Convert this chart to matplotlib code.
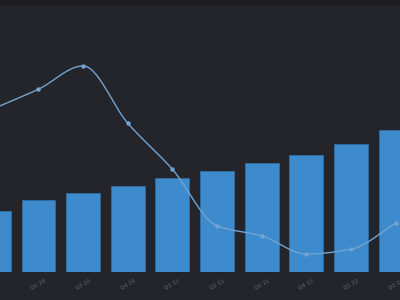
import numpy as np
import matplotlib
matplotlib.use("Agg")
import matplotlib.pyplot as plt
from matplotlib.patches import Rectangle

categories = ["Q1 20", "Q2 20", "Q3 20", "Q4 20", "Q1 21", "Q2 21",
              "Q3 21", "Q4 21", "Q1 22", "Q2 22"]
bar_values = [45.7, 53.5, 58.7, 64.4, 70.4, 75.4, 81.1, 87.1, 95.5, 106.2]
line_values = [61.0, 68.2, 76.9, 55.5, 38.3, 17.2, 13.5, 6.7, 8.5, 18.2]

BG = "#24252a"
BAR = "#3d8bcd"
LINE = "#70a4d4"


def monotone_curve(x, y, n=30):
    x = np.asarray(x, float)
    y = np.asarray(y, float)
    h = np.diff(x)
    d = np.diff(y) / h
    m = np.zeros_like(y)
    m[0] = d[0]
    m[-1] = d[-1]
    for i in range(1, len(y) - 1):
        if d[i - 1] * d[i] <= 0:
            m[i] = 0.0
        else:
            w1 = 2 * h[i] + h[i - 1]
            w2 = h[i] + 2 * h[i - 1]
            m[i] = (w1 + w2) / (w1 / d[i - 1] + w2 / d[i])
    xs, ys = [], []
    for i in range(len(x) - 1):
        t = np.linspace(0, 1, n)
        h00 = 2 * t**3 - 3 * t**2 + 1
        h10 = t**3 - 2 * t**2 + t
        h01 = -2 * t**3 + 3 * t**2
        h11 = t**3 - t**2
        xs.append(x[i] + t * h[i])
        ys.append(h00 * y[i] + h10 * h[i] * m[i] + h01 * y[i + 1] + h11 * h[i] * m[i + 1])
    return np.concatenate(xs), np.concatenate(ys)


fig = plt.figure(figsize=(4, 3), dpi=100, facecolor=BG)
ax = fig.add_axes([0, 28 / 300, 1, 268 / 300])
ax.set_facecolor(BG)
idx = np.arange(len(categories))
ax.bar(idx, bar_values, width=0.76, color=BAR, edgecolor="#2f6ea6", linewidth=0.6, zorder=2)
ax.set_xlim(0.138, 9.096)
ax.set_ylim(0, 200)
for s in ax.spines.values():
    s.set_visible(False)
ax.set_yticks([])
ax.set_xticks(idx)
ax.set_xticklabels(categories, rotation=30, fontsize=3.6, color="#4f5055",
                   ha="center", fontweight="bold")
ax.tick_params(axis="x", length=0, pad=4)

ax2 = ax.twinx()
ax2.set_ylim(0, 100)
ax2.set_xlim(0.138, 9.096)
for s in ax2.spines.values():
    s.set_visible(False)
ax2.set_yticks([])
cx, cy = monotone_curve(idx, line_values)
ax2.plot(cx, cy, color=LINE, linewidth=1.0, zorder=3)
ax2.plot(idx, line_values, "o", color=LINE, markersize=2.2, zorder=4)

fig.add_artist(Rectangle((0, 296 / 300), 1, 4 / 300, transform=fig.transFigure,
                         color="#1c1c21", zorder=10))

fig.savefig("out.png", dpi=100, facecolor=BG)
